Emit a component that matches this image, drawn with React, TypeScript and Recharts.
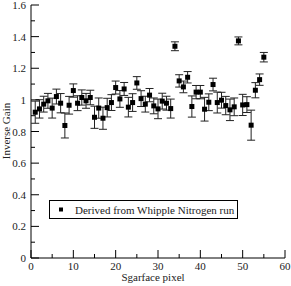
import React from 'react';
import { ScatterChart, Scatter, XAxis, YAxis, ErrorBar } from 'recharts';

document.body.style.margin = '0';

const pixels = [
  1, 2, 3, 4, 5, 6, 7, 8, 9, 10, 11, 12, 13, 14, 15, 16, 17, 18, 19, 20,
  21, 22, 23, 24, 25, 26, 27, 28, 29, 30, 31, 32, 33, 34, 35, 36, 37, 38, 39, 40,
  41, 42, 43, 44, 45, 46, 47, 48, 49, 50, 51, 52, 53, 54, 55,
];
const gains = [
  0.922, 0.943, 0.973, 0.994, 0.948, 1.021, 0.979, 0.838, 0.966, 1.059,
  0.979, 1.015, 0.994, 1.015, 0.89, 0.948, 0.884, 0.951, 0.983, 1.078,
  1.006, 1.069, 0.954, 0.983, 1.107, 1.008, 0.973, 1.03, 0.962, 0.943,
  0.992, 0.979, 0.945, 1.339, 1.12, 1.082, 1.143, 0.958, 1.049, 1.049,
  0.941, 0.985, 1.097, 0.983, 0.998, 0.964, 0.937, 0.956, 1.373, 0.968,
  0.97, 0.84, 1.061, 1.128, 1.27,
];
const errors = [
  0.07, 0.058, 0.05, 0.047, 0.063, 0.047, 0.061, 0.079, 0.056, 0.042,
  0.047, 0.048, 0.047, 0.046, 0.07, 0.064, 0.07, 0.059, 0.05, 0.041,
  0.053, 0.041, 0.062, 0.056, 0.04, 0.05, 0.05, 0.042, 0.05, 0.062,
  0.05, 0.044, 0.06, 0.028, 0.039, 0.037, 0.036, 0.067, 0.042, 0.042,
  0.075, 0.053, 0.04, 0.066, 0.05, 0.058, 0.068, 0.056, 0.025, 0.067,
  0.05, 0.095, 0.048, 0.036, 0.03,
];
const xTicks = [0, 5, 10, 15, 20, 25, 30, 35, 40, 45, 50, 55, 60];
const yTicks = [0, 0.1, 0.2, 0.3, 0.4, 0.5, 0.6, 0.7, 0.8, 0.9, 1, 1.1, 1.2, 1.3, 1.4, 1.5, 1.6];
const yLabels = [0, 0.2, 0.4, 0.6, 0.8, 1, 1.2, 1.4, 1.6];
const legendLabel = 'Derived from Whipple Nitrogen run';

const data = pixels.map((p, i) => ({ pixel: p, gain: gains[i], err: errors[i] }));

const font = 'Liberation Serif, Times New Roman, serif';
const textColor = '#222';

const isMajorX = (v: number) => v % 10 === 0;
const isMajorY = (v: number) => yLabels.some((l) => Math.abs(l - v) < 1e-6);

const BottomTick = ({ x, y, payload }: any) => {
  const major = isMajorX(payload.value);
  return (
    <g>
      <line x1={x} y1={y} x2={x} y2={y - (major ? 8 : 4)} stroke="#000" />
      {major && (
        <text x={x} y={y + 12} textAnchor="middle" style={{ fontSize: 11, fontFamily: font }} fill={textColor}>
          {payload.value}
        </text>
      )}
    </g>
  );
};

const TopTick = ({ x, y, payload }: any) => {
  const major = isMajorX(payload.value);
  return <line x1={x} y1={y} x2={x} y2={y + (major ? 8 : 4)} stroke="#000" />;
};

const LeftTick = ({ x, y, payload }: any) => {
  const major = isMajorY(payload.value);
  return (
    <g>
      <line x1={x} y1={y} x2={x + (major ? 8 : 4)} y2={y} stroke="#000" />
      {major && (
        <text x={x - 5} y={y + 4} textAnchor="end" style={{ fontSize: 11, fontFamily: font }} fill={textColor}>
          {Number(Number(payload.value).toFixed(1)).toString()}
        </text>
      )}
    </g>
  );
};

const RightTick = ({ x, y, payload }: any) => {
  const major = isMajorY(payload.value);
  return <line x1={x} y1={y} x2={x - (major ? 8 : 4)} y2={y} stroke="#000" />;
};

const SquareDot = ({ cx, cy }: any) => (
  <rect x={cx - 2.5} y={cy - 2.5} width={5} height={5} fill="#000" />
);

// x-axis title plus the boxed legend, drawn in the chart's own svg
const BottomLabel = () => (
  <g>
    <text x={153} y={281} textAnchor="middle" style={{ fontSize: 11, fontFamily: font }} fill={textColor}>
      Sgarface pixel
    </text>
    <rect x={49.5} y={200.5} width={188} height={18} fill="#fff" stroke="#000" />
    <rect x={59} y={207.5} width={4} height={4} fill="#000" />
    <text x={75} y={213.5} style={{ fontSize: 11, fontFamily: font }} fill={textColor}>
      {legendLabel}
    </text>
  </g>
);

export default function App() {
  return (
    <div style={{ fontFamily: font }}>
      <ScatterChart width={291} height={286} margin={{ top: 5, right: 6, bottom: 0, left: 0 }}>
        <XAxis
          xAxisId="bottom"
          dataKey="pixel"
          type="number"
          domain={[0, 60]}
          ticks={xTicks}
          height={28}
          tickSize={0}
          tickMargin={0}
          tickLine={false}
          tick={<BottomTick />}
          axisLine={{ stroke: '#000' }}
          interval={0}
          label={{ content: () => <BottomLabel /> }}
        />
        <XAxis
          xAxisId="top"
          orientation="top"
          dataKey="pixel"
          type="number"
          domain={[0, 60]}
          ticks={xTicks}
          height={0}
          tickSize={0}
          tickMargin={0}
          tickLine={false}
          tick={<TopTick />}
          axisLine={{ stroke: '#000' }}
          interval={0}
        />
        <YAxis
          yAxisId="left"
          dataKey="gain"
          type="number"
          domain={[0, 1.6]}
          ticks={yTicks}
          width={31}
          tickSize={0}
          tickMargin={0}
          tickLine={false}
          tick={<LeftTick />}
          axisLine={{ stroke: '#000' }}
          interval={0}
          allowDataOverflow
          label={{
            content: () => (
              <text
                x={10}
                y={131}
                textAnchor="middle"
                style={{ fontSize: 11, fontFamily: font }}
                fill={textColor}
                transform="rotate(-90 10 131)"
              >
                Inverse Gain
              </text>
            ),
          }}
        />
        <YAxis
          yAxisId="right"
          orientation="right"
          dataKey="gain"
          type="number"
          domain={[0, 1.6]}
          ticks={yTicks}
          width={0}
          tickSize={0}
          tickMargin={0}
          tickLine={false}
          tick={<RightTick />}
          axisLine={{ stroke: '#000' }}
          interval={0}
          allowDataOverflow
        />
        <Scatter
          name={legendLabel}
          data={data}
          xAxisId="bottom"
          yAxisId="left"
          shape={<SquareDot />}
          isAnimationActive={false}
        >
          <ErrorBar dataKey="err" direction="y" width={4} stroke="#222" strokeWidth={1} isAnimationActive={false} />
        </Scatter>
      </ScatterChart>
    </div>
  );
}
